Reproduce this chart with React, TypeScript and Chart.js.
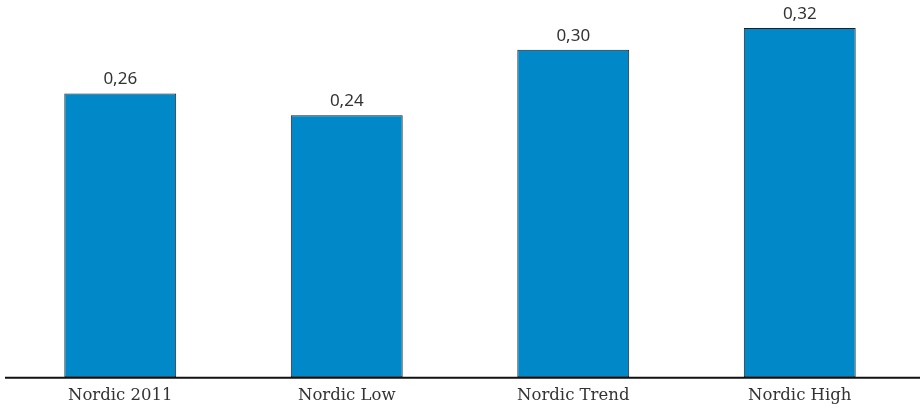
import React, { useEffect, useRef } from "react";
import { Chart, registerables } from "chart.js";

Chart.register(...registerables);

const categories = ["Nordic 2011", "Nordic Low", "Nordic Trend", "Nordic High"];
const values = [0.26, 0.24, 0.3, 0.32];

const valueLabelPlugin = {
  id: "valueLabels",
  afterDatasetsDraw(chart: any) {
    const ctx = chart.ctx;
    const meta = chart.getDatasetMeta(0);
    ctx.save();
    ctx.font = '17px "Noto Sans"';
    ctx.fillStyle = "#333333";
    ctx.textAlign = "center";
    ctx.textBaseline = "alphabetic";
    meta.data.forEach((bar: any, i: number) => {
      const v = values[i];
      ctx.fillText(v.toFixed(2).replace(".", ","), bar.x, bar.y - 9);
    });
    ctx.restore();
  },
};

const baselinePlugin = {
  id: "baseline",
  afterDatasetsDraw(chart: any) {
    const ctx = chart.ctx;
    const y = chart.scales.y.getPixelForValue(0);
    ctx.save();
    ctx.strokeStyle = "#111111";
    ctx.lineWidth = 2;
    ctx.beginPath();
    ctx.moveTo(5, y + 0.5);
    ctx.lineTo(chart.width, y + 0.5);
    ctx.stroke();
    ctx.restore();
  },
};

export default function App() {
  const ref = useRef<HTMLCanvasElement>(null);
  useEffect(() => {
    document.body.style.margin = "0";
    const chart = new Chart(ref.current!, {
      type: "bar",
      data: {
        labels: categories,
        datasets: [
          {
            data: values,
            backgroundColor: "#0088c8",
            borderColor: "#1e1e1e",
            borderWidth: 1,
            borderSkipped: false,
            barPercentage: 0.494,
            categoryPercentage: 1,
          },
        ],
      },
      options: {
        animation: false,
        responsive: false,
        maintainAspectRatio: false,
        layout: { padding: { top: 28, left: 7, right: 7, bottom: 0 } },
        plugins: { legend: { display: false }, tooltip: { enabled: false } },
        scales: {
          x: {
            grid: { display: false, drawTicks: false },
            border: { display: false },
            ticks: {
              padding: 9,
              color: "#333333",
              font: { family: '"DejaVu Serif"', size: 16.5 },
            },
          },
          y: {
            display: false,
            min: 0,
            max: 0.32,
          },
        },
      },
      plugins: [valueLabelPlugin, baselinePlugin],
    });
    return () => chart.destroy();
  }, []);
  return <canvas ref={ref} width={920} height={415} style={{ display: "block" }} />;
}
